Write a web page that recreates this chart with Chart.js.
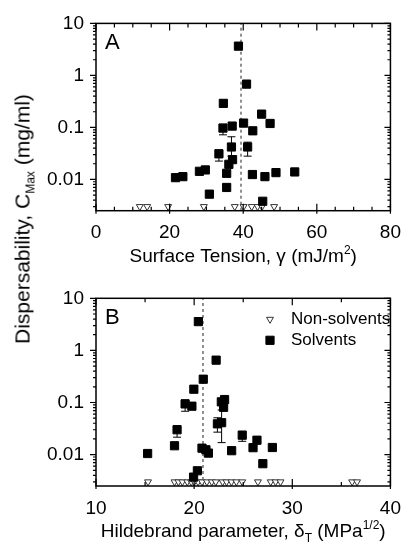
<!DOCTYPE html>
<html><head><meta charset="utf-8">
<script src="https://cdn.jsdelivr.net/npm/chart.js@4.4.1/dist/chart.umd.min.js"></script>
<style>
html,body{margin:0;padding:0;background:#fff;}
#wrap{position:relative;width:412px;height:544px;overflow:hidden;font-family:"Liberation Sans",Arial,sans-serif;color:#000;}
canvas{position:absolute;left:0;}
#ytitle{position:absolute;left:24px;top:219px;transform:translate(-50%,-50%) rotate(-90deg);white-space:nowrap;font-size:21px;line-height:1;}
#ytitle sub{font-size:12px;vertical-align:-5px;}
</style></head>
<body>
<div id="wrap">
<canvas id="cA" width="412" height="272" style="top:0"></canvas>
<canvas id="cB" width="412" height="272" style="top:272px"></canvas>
<div id="ytitle">Dispersability, C<sub>Max</sub> (mg/ml)</div>
</div>
<script>
// ---------- shared ----------
const Y_MIN = 0.0025, Y_MAX = 10;
const Y_TICKS = [0.01, 0.1, 1, 10];
const Y_TICK_LABELS = ['0.01', '0.1', '1', '10'];
const NONSOLV_LEVEL = 0.003;
const SERIES_LABELS = ['Non-solvents', 'Solvents'];

// ---------- panel A: surface tension ----------
const A_X_TICKS = [0, 20, 40, 60, 80];
const A_X_LABELS = ['0', '20', '40', '60', '80'];
const A_SOLV_X = [38.7, 40.9, 34.6, 34.5, 37.0, 40.1, 42.6, 45.0, 47.3, 36.8, 41.2, 33.4, 37.1, 36.1, 35.5, 29.7, 28.1, 23.6, 21.6, 30.8, 35.5, 42.5, 45.9, 48.9, 54.0, 45.3];
const A_SOLV_Y = [3.65, 0.68, 0.29, 0.097, 0.106, 0.121, 0.086, 0.18, 0.119, 0.042, 0.042, 0.031, 0.024, 0.0195, 0.0131, 0.0152, 0.0143, 0.0113, 0.0108, 0.0052, 0.0070, 0.0124, 0.0113, 0.0135, 0.0139, 0.0038];
const A_NONSOLV_X = [11.9, 13.9, 19.6, 29.3, 37.7, 40.1, 42.3, 43.9, 45.1, 48.4];
const A_ERR_X = [34.5, 36.8, 41.2, 33.4];
const A_ERR_LO = [0.072, 0.028, 0.028, 0.0225];
const A_ERR_HI = [0.115, 0.066, 0.052, 0.037];
const A_DASH_X = 39.4;

// ---------- panel B: Hildebrand parameter ----------
const B_X_TICKS = [10, 20, 30, 40];
const B_X_LABELS = ['10', '20', '30', '40'];
const B_SOLV_X = [20.43, 22.24, 20.93, 19.97, 19.08, 19.77, 22.77, 23.1, 23.0, 22.37, 22.8, 18.26, 18.0, 15.26, 20.8, 21.2, 21.45, 23.82, 24.9, 26.0, 26.4, 27.0, 27.97, 20.33, 19.94];
const B_SOLV_Y = [3.57, 0.65, 0.28, 0.18, 0.094, 0.085, 0.103, 0.114, 0.081, 0.039, 0.041, 0.030, 0.0148, 0.0105, 0.0133, 0.0124, 0.0107, 0.0119, 0.0236, 0.0136, 0.0189, 0.0067, 0.0137, 0.0049, 0.0037];
const B_NONSOLV_X = [15.3, 18.0, 18.4, 18.8, 19.3, 19.7, 20.0, 20.4, 20.8, 21.3, 21.8, 22.2, 22.9, 23.3, 23.8, 24.3, 24.9, 26.5, 27.8, 28.3, 28.8, 36.1, 36.6];
const B_ERR_X = [19.08, 22.37, 22.8, 18.26, 24.9];
const B_ERR_LO = [0.068, 0.027, 0.017, 0.0216, 0.018];
const B_ERR_HI = [0.112, 0.051, 0.072, 0.036, 0.028];
const B_DASH_X = 20.9;

const FONT = '"Liberation Sans", Arial, sans-serif';
Chart.defaults.font.family = FONT;
Chart.defaults.color = '#000';

function toPts(xs, ys) { return xs.map((x, i) => ({x: x, y: ys[i]})); }
function flat(xs, v) { return xs.map(x => ({x: x, y: v})); }

function drawRich(ctx, segs, cx, baseY) {
  let w = 0;
  segs.forEach(s => { ctx.font = s[1] + 'px ' + FONT; w += ctx.measureText(s[0]).width; });
  let x = cx - w / 2;
  ctx.textAlign = 'left'; ctx.textBaseline = 'alphabetic'; ctx.fillStyle = '#000';
  segs.forEach(s => { ctx.font = s[1] + 'px ' + FONT; ctx.fillText(s[0], x, baseY + s[2]); x += ctx.measureText(s[0]).width; });
}

function build(id, P) {
  const decor = {
    id: 'decor_' + id,
    beforeDatasetsDraw(chart) {
      const c = chart.ctx, xs = chart.scales.x, ys = chart.scales.y;
      c.save();
      c.strokeStyle = '#000'; c.lineWidth = 1;
      c.beginPath();
      P.errX.forEach((xv, i) => {
        const px = xs.getPixelForValue(xv);
        const p1 = ys.getPixelForValue(P.errLo[i]);
        const p2 = ys.getPixelForValue(P.errHi[i]);
        c.moveTo(px, p1); c.lineTo(px, p2);
        c.moveTo(px - 4, p1); c.lineTo(px + 4, p1);
        c.moveTo(px - 4, p2); c.lineTo(px + 4, p2);
      });
      c.stroke();
      c.restore();
    },
    afterDraw(chart) {
      const c = chart.ctx, xs = chart.scales.x, ys = chart.scales.y;
      const {left, right, top, bottom} = chart.chartArea;
      c.save();
      c.strokeStyle = '#000'; c.lineWidth = 1.2;
      c.beginPath();
      const nx = Math.round((P.xMax - P.xMin) / P.xMinor);
      for (let k = 0; k <= nx; k++) {
        const v = P.xMin + k * P.xMinor;
        const px = xs.getPixelForValue(v);
        const major = P.xTicks.some(t => Math.abs(t - v) < 1e-9);
        const li = major ? 7 : 4;
        c.moveTo(px, bottom + (major ? 3 : 0)); c.lineTo(px, bottom - li);
        c.moveTo(px, top); c.lineTo(px, top + li);
      }
      for (let d = -3; d <= 1; d++) {
        for (let m = 1; m <= 9; m++) {
          const v = m * Math.pow(10, d);
          if (v < Y_MIN * 0.999 || v > Y_MAX * 1.001) continue;
          const py = ys.getPixelForValue(v);
          const L = (m === 1) ? 6 : 3;
          c.moveTo(left - L, py); c.lineTo(left, py);
          c.moveTo(right, py); c.lineTo(right - L, py);
        }
      }
      c.stroke();
      c.lineWidth = 1.5;
      c.strokeRect(left, top, right - left, bottom - top);
      // panel letter
      c.fillStyle = '#000';
      c.font = '22px ' + FONT; c.textAlign = 'left'; c.textBaseline = 'alphabetic';
      c.fillText(P.letter, left + 9, top + 26);
      // x title
      drawRich(c, P.xTitle, (left + right) / 2, P.titleBase);
      // legend
      if (P.legend) {
        const items = [chart.data.datasets[1], chart.data.datasets[2]];
        const rows = [top + 21, top + 42];
        items.forEach((ds, i) => {
          c.save();
          c.fillStyle = ds.pointBackgroundColor; c.strokeStyle = ds.pointBorderColor; c.lineWidth = ds.pointBorderWidth;
          Chart.helpers.drawPoint(c, {pointStyle: ds.pointStyle, rotation: ds.pointRotation || 0, radius: ds.pointRadius, borderWidth: ds.pointBorderWidth}, 270, rows[i]);
          c.restore();
          c.fillStyle = '#000'; c.font = '17px ' + FONT; c.textAlign = 'left'; c.textBaseline = 'middle';
          c.fillText(ds.label, 291, rows[i]);
        });
      }
      c.restore();
    }
  };
  return new Chart(document.getElementById(id), {
    type: 'scatter',
    data: {datasets: [
      {label: 'dash', type: 'line', data: [{x: P.dash, y: Y_MIN}, {x: P.dash, y: Y_MAX}], borderColor: '#555', borderWidth: 1.3, borderDash: [3, 3], pointRadius: 0, showLine: true, fill: false, order: 3},
      {label: SERIES_LABELS[0], data: flat(P.nsX, NONSOLV_LEVEL), pointStyle: 'triangle', pointRotation: 180, pointRadius: 4, pointBorderWidth: 1, pointBorderColor: '#333', pointBackgroundColor: '#fff', order: 2},
      {label: SERIES_LABELS[1], data: toPts(P.sX, P.sY), pointStyle: 'rect', pointRadius: 5.8, pointBorderWidth: 1, pointBorderColor: '#000', pointBackgroundColor: '#000', order: 1}
    ]},
    options: {
      responsive: false, animation: false, devicePixelRatio: 1,
      layout: {padding: {top: P.padTop, right: 12, left: 0, bottom: 0}},
      plugins: {legend: {display: false}, tooltip: {enabled: false}},
      scales: {
        x: {type: 'linear', min: P.xMin, max: P.xMax,
          afterBuildTicks: s => { s.ticks = P.xTicks.map(v => ({value: v})); },
          ticks: {autoSkip: false, maxRotation: 0, padding: 11, font: {size: 19}, color: '#000',
            callback: v => P.xLabels[P.xTicks.indexOf(v)]},
          grid: {display: false, drawTicks: false}, border: {display: false},
          afterFit: s => { s.height = P.xHeight; }},
        y: {type: 'logarithmic', min: Y_MIN, max: Y_MAX,
          afterBuildTicks: s => { s.ticks = Y_TICKS.map(v => ({value: v})); },
          ticks: {autoSkip: false, padding: 12, font: {size: 19}, color: '#000',
            callback: v => Y_TICK_LABELS[Y_TICKS.indexOf(v)]},
          grid: {display: false, drawTicks: false}, border: {display: false},
          afterFit: s => { s.width = 96; }}
      }
    },
    plugins: [decor]
  });
}

build('cA', {
  xMin: 0, xMax: 80, xMinor: 5, xTicks: A_X_TICKS, xLabels: A_X_LABELS,
  sX: A_SOLV_X, sY: A_SOLV_Y, nsX: A_NONSOLV_X,
  errX: A_ERR_X, errLo: A_ERR_LO, errHi: A_ERR_HI, dash: A_DASH_X,
  padTop: 22, xHeight: 61.3, letter: 'A', legend: false, titleBase: 261.5,
  xTitle: [['Surface Tension, ', 19, 0], ['\u03B3', 19, 0], [' (mJ/m', 19, 0], ['2', 12, -8], [')', 19, 0]]
});
build('cB', {
  xMin: 10, xMax: 40, xMinor: 5, xTicks: B_X_TICKS, xLabels: B_X_LABELS,
  sX: B_SOLV_X, sY: B_SOLV_Y, nsX: B_NONSOLV_X,
  errX: B_ERR_X, errLo: B_ERR_LO, errHi: B_ERR_HI, dash: B_DASH_X,
  padTop: 26.3, xHeight: 58, letter: 'B', legend: true, titleBase: 264.5,
  xTitle: [['Hildebrand parameter, ', 19, 0], ['\u03B4', 19, 0], ['T', 12, 5], [' (MPa', 19, 0], ['1/2', 12, -8], [')', 19, 0]]
});
</script>
</body></html>
